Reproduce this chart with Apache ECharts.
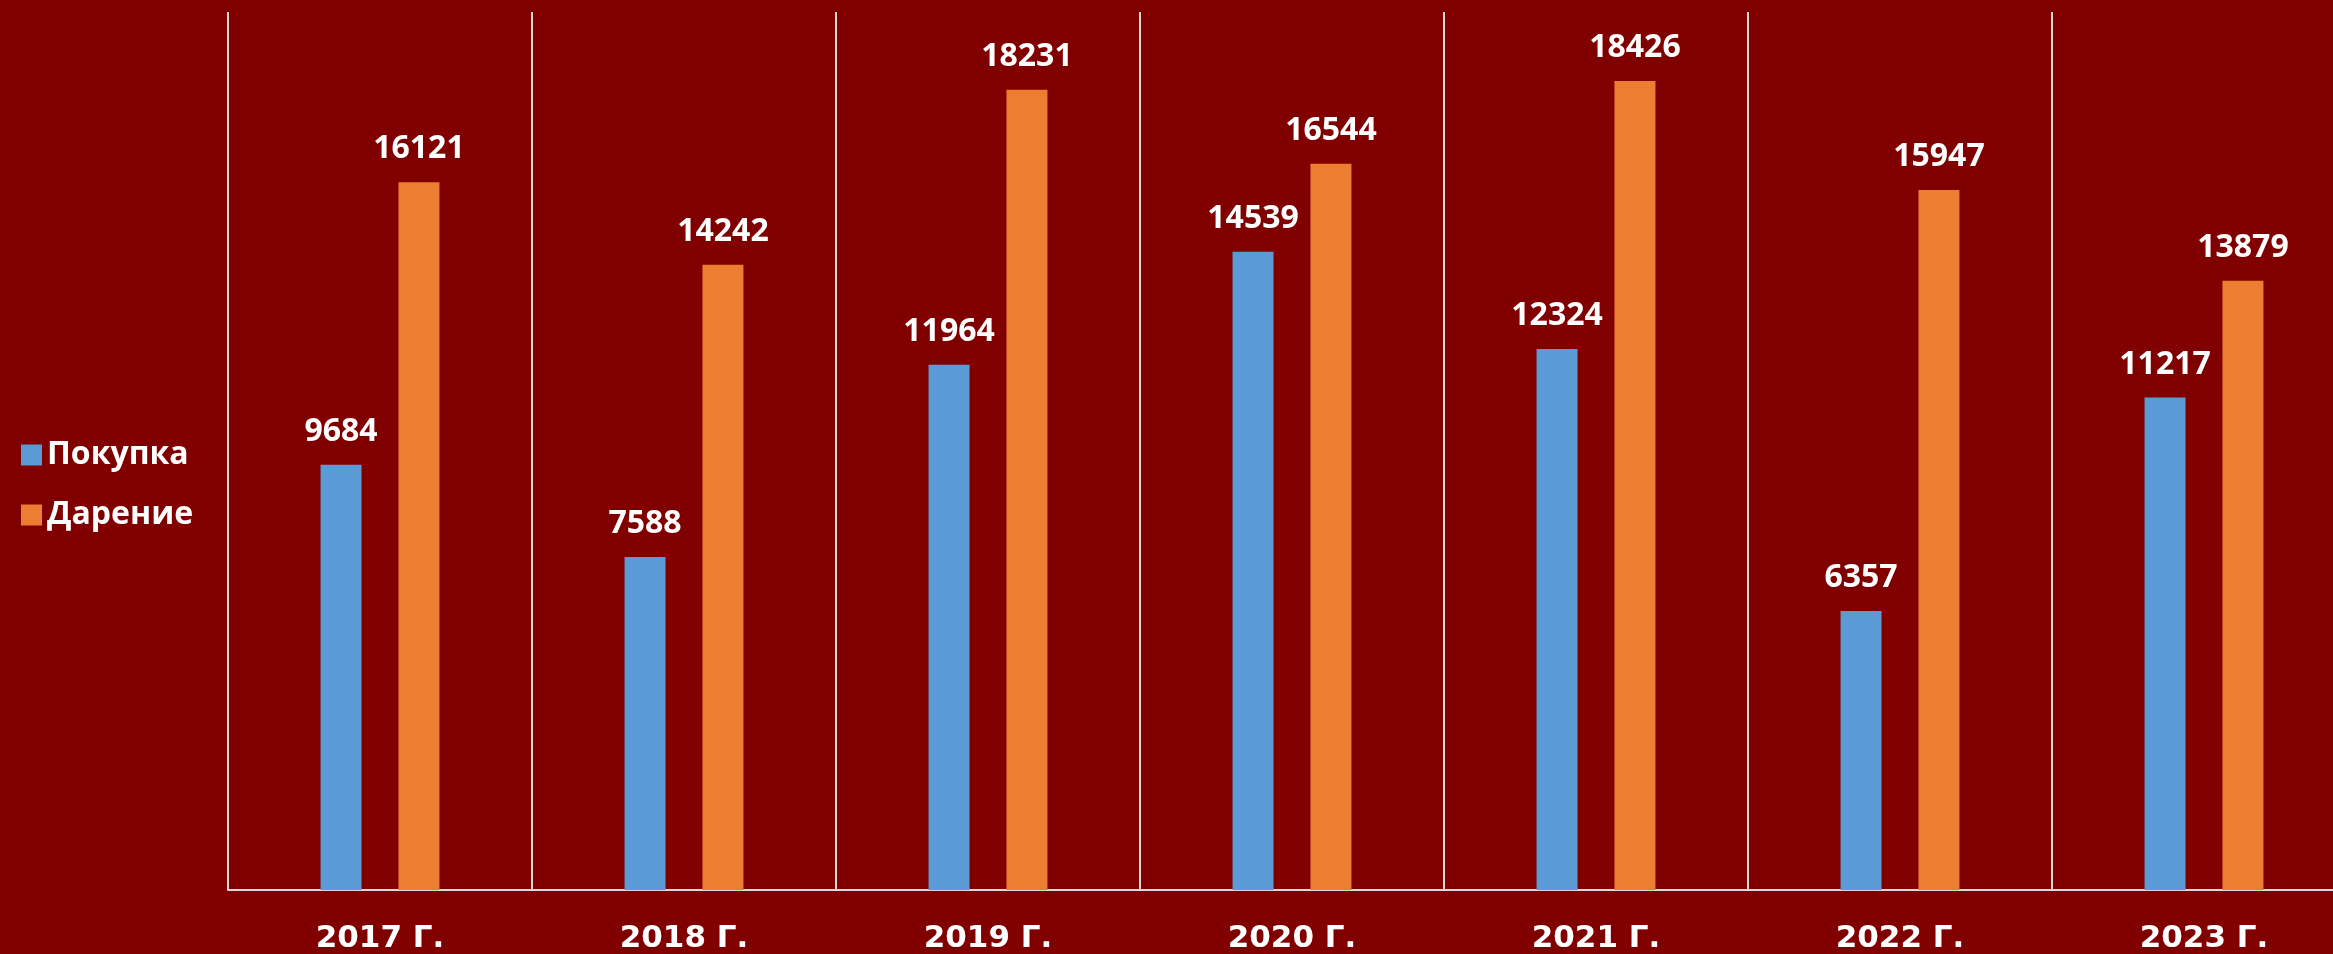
<!DOCTYPE html>
<html>
<head>
<meta charset="utf-8">
<script src="https://cdn.jsdelivr.net/npm/echarts@6/dist/echarts.min.js"></script>
<style>
  html, body { margin: 0; padding: 0; background: #800000; overflow: hidden; }
  /* a bit wider than the window: the last category is cut off in the original */
  #chart { width: 2356px; height: 954px; }
</style>
</head>
<body>
<div id="chart"></div>
<script>
const years = ['2017 Г.', '2018 Г.', '2019 Г.', '2020 Г.', '2021 Г.', '2022 Г.', '2023 Г.']
const purchase = [9684, 7588, 11964, 14539, 12324, 6357, 11217]
const gift = [16121, 14242, 18231, 16544, 18426, 15947, 13879]

const chart = echarts.init(document.getElementById('chart'))

const valueLabel = {
  show: true,
  position: 'top',
  distance: 17,
  color: '#ffffff',
  fontFamily: 'Open Sans',
  fontWeight: 'bold',
  fontSize: 32,
}

chart.setOption({
  backgroundColor: '#800000',
  animation: false,
  legend: {
    orient: 'vertical',
    left: 16,
    top: 434,
    itemWidth: 21,
    itemHeight: 21,
    itemGap: 28,
    icon: 'rect',
    textStyle: {
      color: '#ffffff',
      fontFamily: 'Open Sans',
      fontWeight: 'bold',
      fontSize: 32,
    },
    data: ['Покупка', 'Дарение'],
  },
  grid: {
    left: 228,
    right: 0,
    top: 12,
    bottom: 64,
  },
  xAxis: {
    type: 'category',
    data: years,
    axisTick: { show: false },
    axisLine: { lineStyle: { color: '#d9d9d9', width: 2 } },
    splitLine: { show: true, lineStyle: { color: '#d9d9d9', width: 2 } },
    axisLabel: {
      margin: 33,
      color: '#ffffff',
      fontFamily: 'DejaVu Sans',
      fontWeight: 'bold',
      fontSize: 31,
    },
  },
  yAxis: {
    type: 'value',
    min: 0,
    max: 20000,
    show: false,
    splitLine: { show: false },
  },
  series: [
    {
      name: 'Покупка',
      type: 'bar',
      data: purchase,
      barWidth: 41,
      barGap: '90%',
      itemStyle: { color: '#5b9bd5' },
      label: valueLabel,
    },
    {
      name: 'Дарение',
      type: 'bar',
      data: gift,
      barWidth: 41,
      barGap: '90%',
      itemStyle: { color: '#ed7d31' },
      label: valueLabel,
    },
  ],
})
</script>
</body>
</html>
